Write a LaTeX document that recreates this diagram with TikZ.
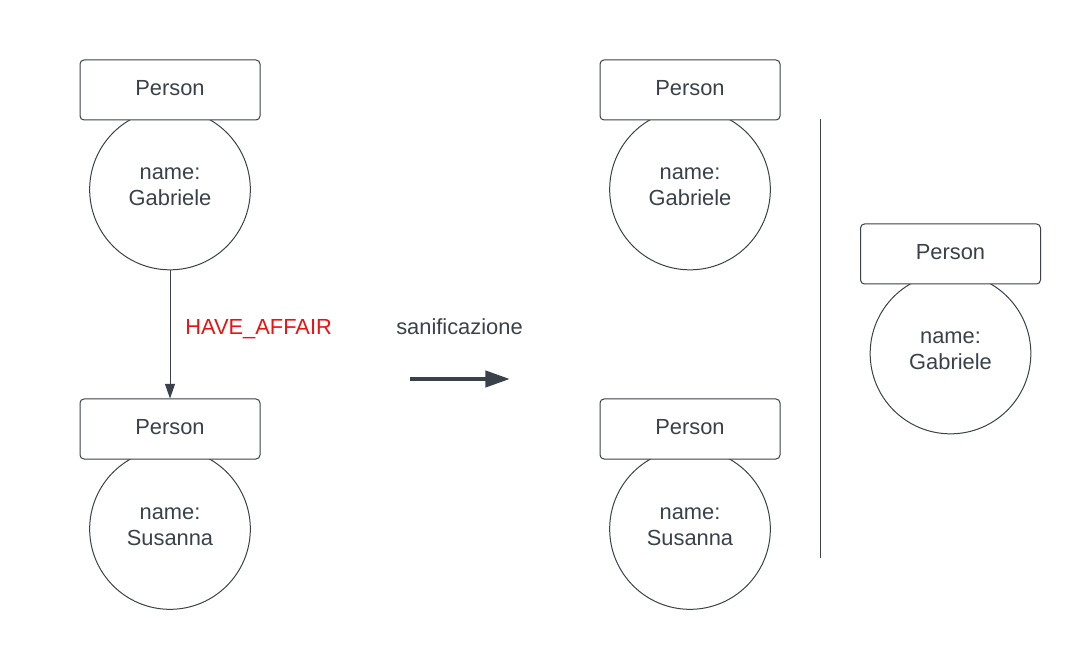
\documentclass[tikz,border=0pt]{standalone}
\usepackage{fontspec}
\setmainfont{Liberation Sans}
\usetikzlibrary{arrows.meta}
\definecolor{ink}{HTML}{3A414A}
\definecolor{redlabel}{HTML}{E81313}
\tikzset{
  every node/.style={font=\fontsize{16.4}{19.5}\selectfont, text=ink},
  personbox/.style={draw=ink, fill=white, line width=0.75pt, rounded corners=3pt,
    minimum width=135pt, minimum height=45pt, inner sep=0pt},
  propcircle/.style={draw=ink, circle, line width=0.75pt, minimum size=120.5pt, inner sep=0pt},
  lbl/.style={inner sep=0pt, align=center},
  rel/.style={draw=ink, line width=0.75pt, -{Triangle[length=11pt,width=7.5pt]}},
  bigarrow/.style={draw=ink, line width=3.2pt, -{Triangle[length=18.5pt,width=12pt]}},
  divider/.style={draw=ink, line width=0.75pt}
}
\begin{document}
\begin{tikzpicture}[x=0.75pt,y=-0.75pt]
\useasboundingbox (0,0) rectangle (1092,666);
% left column
\node[propcircle] (g1) at (170,189.5) {};
\node[personbox] (p1) at (170,90) {};
\node[lbl, anchor=base] (p1t) at (170,96) {Person};
\node[lbl, anchor=base] (g1t) at (170,206) {name:\\Gabriele};
\node[propcircle] (s1) at (170,529) {};
\node[personbox] (p2) at (170,429) {};
\node[lbl, anchor=base] (p2t) at (170,435) {Person};
\node[lbl, anchor=base] (s1t) at (170,545.5) {name:\\Susanna};
\draw[rel] (g1.south) -- (p2.north);
\node[lbl, anchor=base west, text=redlabel] (ha) at (185,334.5) {HAVE\_AFFAIR};
% middle
\node[lbl, anchor=base west] (san) at (396,334.5) {sanificazione};
\coordinate (a1) at (410,379);
\coordinate (a2) at (510,379);
\draw[bigarrow] (a1) -- (a2);
% right column
\node[propcircle] (g2) at (690,189.5) {};
\node[personbox] (p3) at (690,90) {};
\node[lbl, anchor=base] (p3t) at (690,96) {Person};
\node[lbl, anchor=base] (g2t) at (690,206) {name:\\Gabriele};
\node[propcircle] (s2) at (690,529) {};
\node[personbox] (p4) at (690,429) {};
\node[lbl, anchor=base] (p4t) at (690,435) {Person};
\node[lbl, anchor=base] (s2t) at (690,545.5) {name:\\Susanna};
% divider
\coordinate (d1) at (820,119);
\coordinate (d2) at (820,558);
\draw[divider] (d1) -- (d2);
% far right
\node[propcircle] (g3) at (950.5,353.5) {};
\node[personbox] (p5) at (950.5,254) {};
\node[lbl, anchor=base] (p5t) at (950.5,260) {Person};
\node[lbl, anchor=base] (g3t) at (950.5,370) {name:\\Gabriele};
\end{tikzpicture}
\end{document}
